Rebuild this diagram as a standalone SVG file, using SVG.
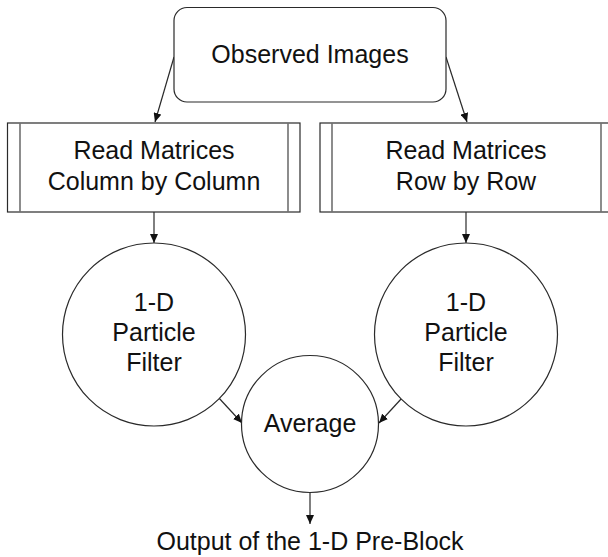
<svg xmlns="http://www.w3.org/2000/svg" width="608" height="557" viewBox="0 0 608 557">
<defs>
<style>
.shape{fill:#fff;stroke:#2a2a2a;stroke-width:1.2}
.inner{stroke:#707070;stroke-width:1.6;fill:none}
.lbl{font-family:"Liberation Sans",Arial,sans-serif;font-size:25px;fill:#111;text-anchor:middle}
.edge{stroke:#2a2a2a;stroke-width:1.2;fill:none;marker-end:url(#ah)}
</style>
<marker id="ah" markerUnits="userSpaceOnUse" markerWidth="9" markerHeight="8" refX="9" refY="4" orient="auto">
<path d="M0,0 L9,4 L0,8 z" fill="#111"/>
</marker>
</defs>
<rect width="608" height="557" fill="#fff"/>
<g id="connectors">
<line class="edge" x1="174" y1="57" x2="155" y2="122"/>
<line class="edge" x1="446" y1="57" x2="467" y2="122"/>
<line class="edge" x1="154" y1="212" x2="154" y2="243"/>
<line class="edge" x1="466" y1="212" x2="466" y2="243"/>
<line class="edge" x1="218" y1="397" x2="242" y2="423"/>
<line class="edge" x1="402" y1="398" x2="379" y2="423"/>
<line class="edge" x1="310" y1="493" x2="310" y2="524"/>
</g>
<g id="observed">
<rect class="shape" x="174" y="7.5" width="272" height="94.5" rx="13" ry="13"/>
<text class="lbl" x="310" y="63">Observed Images</text>
</g>
<g id="readcol">
<rect class="shape" x="7.5" y="123" width="292.5" height="89"/>
<line class="inner" x1="20" y1="123" x2="20" y2="212"/>
<line class="inner" x1="288" y1="123" x2="288" y2="212"/>
<text class="lbl" x="154" y="159">Read Matrices</text>
<text class="lbl" x="154" y="190">Column by Column</text>
</g>
<g id="readrow">
<rect class="shape" x="320" y="123" width="293" height="89"/>
<line class="inner" x1="332" y1="123" x2="332" y2="212"/>
<line class="inner" x1="601" y1="123" x2="601" y2="212"/>
<text class="lbl" x="466" y="159">Read Matrices</text>
<text class="lbl" x="466" y="190">Row by Row</text>
</g>
<g id="pf-left">
<circle class="shape" cx="154" cy="334.5" r="91.5"/>
<text class="lbl" x="154" y="311">1-D</text>
<text class="lbl" x="154" y="341">Particle</text>
<text class="lbl" x="154" y="371">Filter</text>
</g>
<g id="pf-right">
<circle class="shape" cx="466" cy="334.5" r="91.5"/>
<text class="lbl" x="466" y="311">1-D</text>
<text class="lbl" x="466" y="341">Particle</text>
<text class="lbl" x="466" y="371">Filter</text>
</g>
<g id="average">
<circle class="shape" cx="310" cy="424" r="68.5"/>
<text class="lbl" x="310" y="432">Average</text>
</g>
<g id="output">
<text class="lbl" x="310" y="550">Output of the 1-D Pre-Block</text>
</g>
</svg>
